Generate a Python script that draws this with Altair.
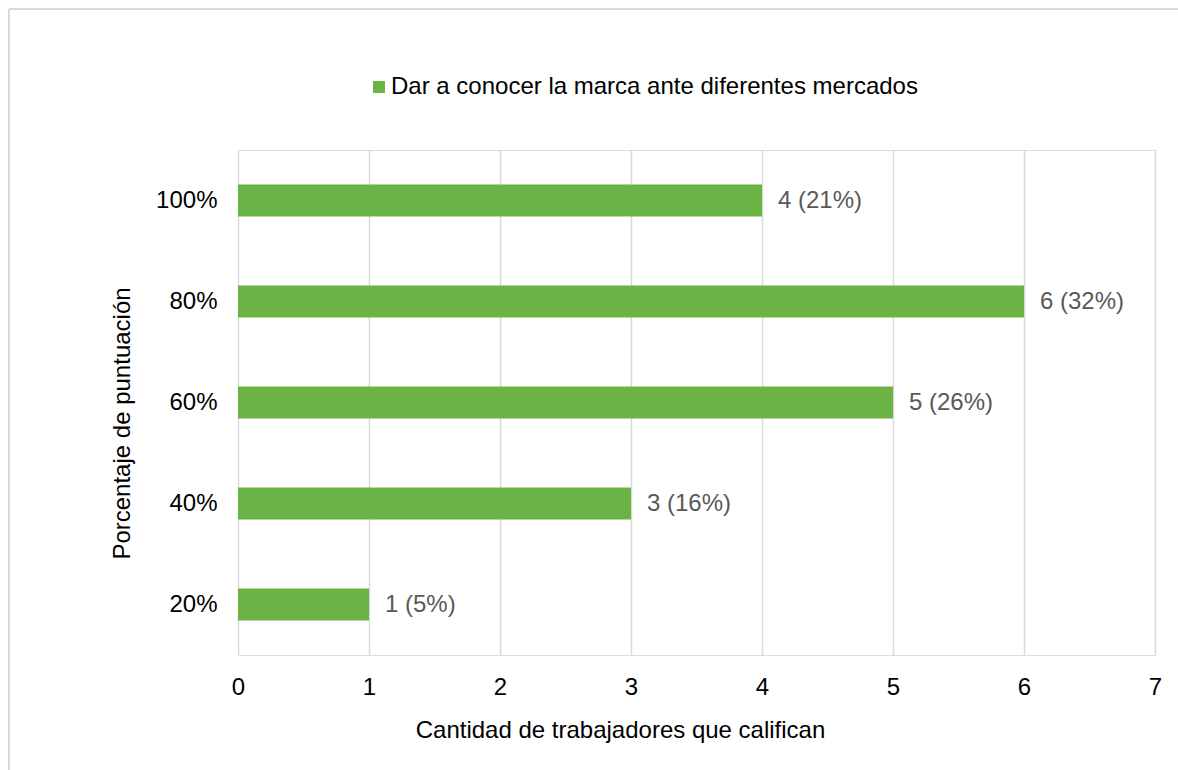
import altair as alt
import pandas as pd

categorias = ["20%", "40%", "60%", "80%", "100%"]
valores = [1, 3, 5, 6, 4]
etiquetas = ["1 (5%)", "3 (16%)", "5 (26%)", "6 (32%)", "4 (21%)"]
serie = "Dar a conocer la marca ante diferentes mercados"
orden_y = ["100%", "80%", "60%", "40%", "20%"]
ticks_x = [0, 1, 2, 3, 4, 5, 6, 7]

df = pd.DataFrame({
    "cat": categorias,
    "val": valores,
    "lab": etiquetas,
    "serie": [serie] * len(categorias),
})

FONT = "Liberation Sans"
GREEN = "#6BB345"
FS = 24

y_enc = alt.Y(
    "cat:N",
    sort=orden_y,
    scale=alt.Scale(paddingInner=0.68, paddingOuter=0.34),
    axis=alt.Axis(
        title="Porcentaje de puntuación",
        titleFontSize=FS, titleFontWeight="normal", titleColor="#000000",
        titleFont=FONT, titleAnchor="start", titleAngle=-90,
        titleX=-116, titleY=273, titleAlign="center", titleBaseline="middle",
        labelFontSize=FS, labelColor="#000000", labelFont=FONT,
        labelPadding=21, ticks=False, domain=False, grid=False,
    ),
)

x_enc = alt.X(
    "val:Q",
    scale=alt.Scale(domain=[0, 7], nice=False),
    axis=alt.Axis(
        values=ticks_x, format="d",
        title="Cantidad de trabajadores que califican",
        titleFontSize=FS, titleFontWeight="normal", titleColor="#000000",
        titleFont=FONT, titleAnchor="start",
        titleX=382, titleY=75, titleAlign="center", titleBaseline="middle",
        labelFontSize=FS, labelColor="#000000", labelFont=FONT,
        labelPadding=20, labelFlush=False, ticks=False, domain=False,
        grid=True, gridColor="#d9d9d9", gridWidth=1.5,
    ),
)

bars = alt.Chart(df).mark_bar(size=32).encode(
    y=y_enc,
    x=x_enc,
    color=alt.Color(
        "serie:N",
        scale=alt.Scale(range=[GREEN]),
        legend=alt.Legend(
            title=None, orient="none", legendX=129, legendY=-75,
            symbolType="square", symbolSize=144, symbolStrokeWidth=0,
            labelFontSize=FS, labelFont=FONT, labelColor="#000000",
            labelOffset=0, padding=0, labelLimit=800,
        ),
    ),
)

text = alt.Chart(df).mark_text(
    align="left", baseline="middle", dx=16, fontSize=FS, font=FONT, color="#595959"
).encode(
    y=alt.Y("cat:N", sort=orden_y),
    x=alt.X("val:Q"),
    text="lab:N",
)

border_top = alt.Chart(df).mark_rule(color="#d9d9d9", strokeWidth=1.5).encode(
    x=alt.value(-229), x2=alt.value(940), y=alt.value(-141)
)
border_left = alt.Chart(df).mark_rule(color="#d9d9d9", strokeWidth=1.5).encode(
    x=alt.value(-229), y=alt.value(-141), y2=alt.value(620)
)

chart = alt.layer(border_top, border_left, bars, text).properties(
    width=917, height=505,
    padding={"left": 238, "top": 150, "right": 23, "bottom": 115},
    autosize=alt.AutoSizeParams(type="none"),
).configure_view(stroke=None).configure(background="white")

chart.save("out.html", embed_options={"renderer": "svg", "actions": False})
